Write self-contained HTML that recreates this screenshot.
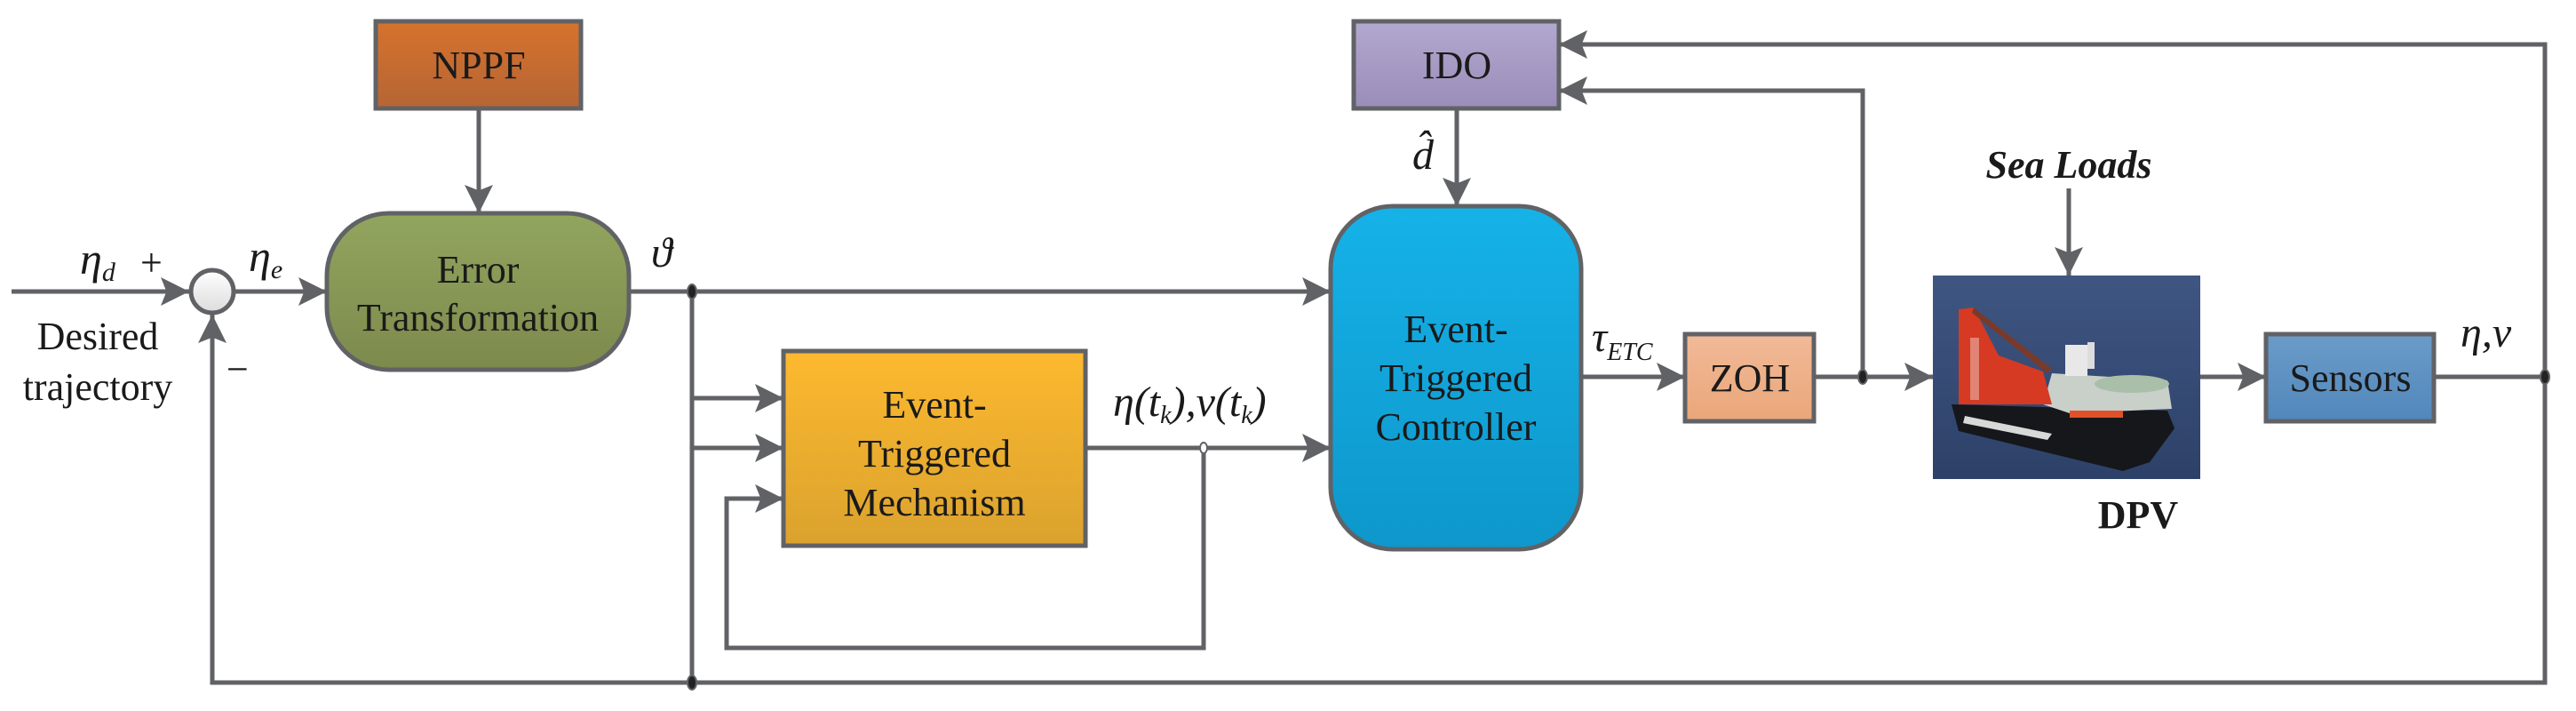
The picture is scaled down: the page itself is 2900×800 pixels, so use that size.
<!DOCTYPE html>
<html><head><meta charset="utf-8"><style>
html,body{margin:0;padding:0;background:#fff;}
svg{display:block;}
text{font-family:"Liberation Serif",serif;fill:#1a1a1a;}
.t{font-size:44px;text-anchor:middle;}
.m{font-style:italic;}
</style></head><body>
<svg width="2900" height="800" viewBox="0 0 2900 800" xmlns="http://www.w3.org/2000/svg">
<defs>
<marker id="a" viewBox="0 0 10 10" refX="10" refY="5" markerUnits="userSpaceOnUse" markerWidth="32" markerHeight="34" orient="auto">
<path d="M0,0 L10,5 L0,10 L2,5 z" fill="#616266"/>
</marker>
<linearGradient id="gN" x1="0" y1="0" x2="0" y2="1"><stop offset="0" stop-color="#d6722c"/><stop offset="1" stop-color="#b56535"/></linearGradient>
<linearGradient id="gE" x1="0" y1="0" x2="0" y2="1"><stop offset="0" stop-color="#92a55e"/><stop offset="1" stop-color="#7c8a4c"/></linearGradient>
<linearGradient id="gM" x1="0" y1="0" x2="0" y2="1"><stop offset="0" stop-color="#fdb92f"/><stop offset="1" stop-color="#daa22e"/></linearGradient>
<linearGradient id="gC" x1="0" y1="0" x2="0" y2="1"><stop offset="0" stop-color="#15b2e8"/><stop offset="1" stop-color="#0e97cb"/></linearGradient>
<linearGradient id="gI" x1="0" y1="0" x2="0" y2="1"><stop offset="0" stop-color="#b3a8cf"/><stop offset="1" stop-color="#9a8db9"/></linearGradient>
<linearGradient id="gZ" x1="0" y1="0" x2="0" y2="1"><stop offset="0" stop-color="#f1ba98"/><stop offset="1" stop-color="#eaa679"/></linearGradient>
<linearGradient id="gS" x1="0" y1="0" x2="0" y2="1"><stop offset="0" stop-color="#6b9cc8"/><stop offset="1" stop-color="#5187bb"/></linearGradient>
<linearGradient id="gO" x1="0" y1="0" x2="0" y2="1"><stop offset="0" stop-color="#fff"/><stop offset="1" stop-color="#dcdcdc"/></linearGradient>
<linearGradient id="sea" x1="0" y1="0" x2="0" y2="1"><stop offset="0" stop-color="#3f5682"/><stop offset="1" stop-color="#2d4168"/></linearGradient>
</defs>

<g stroke="#616266" stroke-width="5" fill="none">
<path d="M13,328 H213" marker-end="url(#a)"/>
<path d="M263,328 H368" marker-end="url(#a)"/>
<path d="M539,122 V240" marker-end="url(#a)"/>
<path d="M708,328 H1498" marker-end="url(#a)"/>
<path d="M779,328 V768"/>
<path d="M779,448 H882" marker-end="url(#a)"/>
<path d="M779,504 H882" marker-end="url(#a)"/>
<path d="M1355,504 V729 H818 V561 H882" marker-end="url(#a)"/>
<path d="M1222,504 H1498" marker-end="url(#a)"/>
<path d="M1640,122 V232" marker-end="url(#a)"/>
<path d="M1780,424 H1897" marker-end="url(#a)"/>
<path d="M2042,424 H2176" marker-end="url(#a)"/>
<path d="M2097,424 V102 H1755" marker-end="url(#a)"/>
<path d="M2477,424 H2551" marker-end="url(#a)"/>
<path d="M2740,424 H2865 V50 H1755" marker-end="url(#a)"/>
<path d="M2865,424 V768 H239 V354" marker-end="url(#a)"/>
<path d="M2329,212 V310" marker-end="url(#a)"/>
</g>
<g fill="#222" stroke="#616266" stroke-width="2">
<ellipse cx="779" cy="328" rx="5" ry="8"/>
<ellipse cx="779" cy="768" rx="5" ry="8"/>
<ellipse cx="1355" cy="504" rx="4" ry="6" fill="#fff"/>
<ellipse cx="2097" cy="424" rx="5" ry="8"/>
<ellipse cx="2865" cy="424" rx="5" ry="8"/>
</g>

<circle cx="239" cy="328" r="24" fill="url(#gO)" stroke="#616266" stroke-width="5"/>

<g stroke="#616266" stroke-width="5">
<rect x="423" y="24" width="231" height="98" fill="url(#gN)"/>
<rect x="368" y="240" width="340" height="176" rx="70" ry="70" fill="url(#gE)"/>
<rect x="882" y="395" width="340" height="219" fill="url(#gM)"/>
<rect x="1498" y="232" width="282" height="386" rx="70" ry="70" fill="url(#gC)"/>
<rect x="1524" y="24" width="231" height="98" fill="url(#gI)"/>
<rect x="1897" y="376" width="145" height="98" fill="url(#gZ)"/>
<rect x="2551" y="376" width="189" height="98" fill="url(#gS)"/>
</g>

<!-- ship image -->
<g>
<rect x="2176" y="310" width="301" height="229" fill="url(#sea)"/>
<polygon points="2197,455 2440,462 2448,482 2420,520 2390,530 2205,485" fill="#15171a"/>
<polygon points="2212,468 2310,488 2305,495 2210,476" fill="#d8d8d8"/>
<polygon points="2310,420 2440,428 2445,460 2330,465 2300,455" fill="#c9cfc9"/>
<ellipse cx="2400" cy="432" rx="42" ry="10" fill="#a9bfa9"/>
<rect x="2325" y="388" width="25" height="35" fill="#e8e8e8"/>
<rect x="2350" y="385" width="8" height="30" fill="#ddd"/>
<polygon points="2205,348 2222,346 2250,400 2300,418 2310,455 2205,455" fill="#d63a22"/>
<polygon points="2222,346 2310,415 2305,420 2220,352" fill="#7a3a2a"/>
<rect x="2218" y="380" width="10" height="70" fill="#f2f2f2" opacity="0.4"/>
<rect x="2330" y="462" width="60" height="8" fill="#e2502a"/>
</g>

<text class="t" x="539" y="88">NPPF</text>
<text class="t" x="538" y="318">Error</text>
<text class="t" x="538" y="372">Transformation</text>
<text class="t" x="1052" y="470">Event-</text>
<text class="t" x="1052" y="525">Triggered</text>
<text class="t" x="1052" y="580">Mechanism</text>
<text class="t" x="1639" y="385">Event-</text>
<text class="t" x="1639" y="440">Triggered</text>
<text class="t" x="1639" y="495">Controller</text>
<text class="t" x="1640" y="88">IDO</text>
<text class="t" x="1970" y="440">ZOH</text>
<text class="t" x="2646" y="440">Sensors</text>
<text class="t" x="110" y="393">Desired</text>
<text class="t" x="110" y="450">trajectory</text>
<text class="t" x="2407" y="594" font-weight="bold">DPV</text>
<text class="t m" x="2329" y="200" font-weight="bold">Sea Loads</text>

<text x="90" y="308" class="m" font-size="50">η<tspan font-size="30" dy="8">d</tspan></text>
<text x="158" y="310" font-size="44">+</text>
<text x="280" y="305" class="m" font-size="50">η<tspan font-size="30" dy="8">e</tspan></text>
<text x="255" y="430" font-size="44">−</text>
<text x="733" y="300" class="m" font-size="48">ϑ</text>
<text x="1253" y="468" class="m" font-size="48">η(t<tspan font-size="28" dy="8">k</tspan><tspan dy="-8">),ν(t</tspan><tspan font-size="28" dy="8">k</tspan><tspan dy="-8">)</tspan></text>
<text x="1590" y="190" class="m" font-size="48">d̂</text>
<text x="1792" y="395" class="m" font-size="48">τ<tspan font-size="28" dy="10">ETC</tspan></text>
<text x="2770" y="390" class="m" font-size="48">η,ν</text>
</svg>
</body></html>
